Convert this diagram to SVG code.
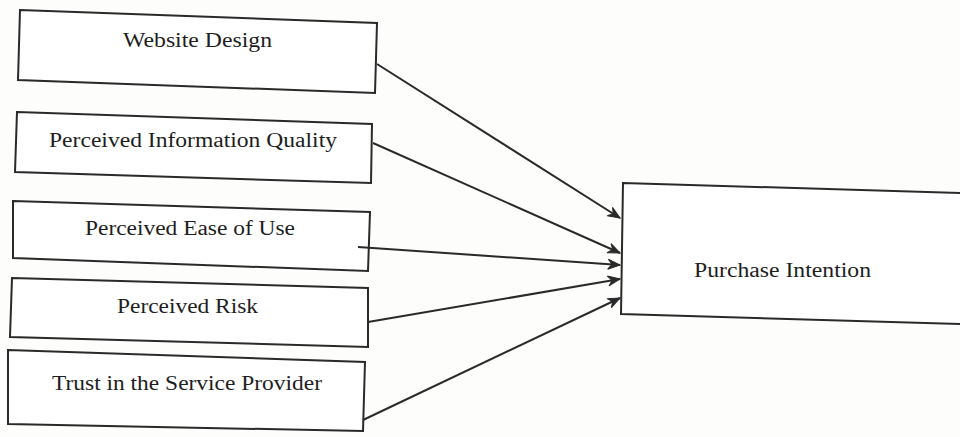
<svg xmlns="http://www.w3.org/2000/svg" width="960" height="437" viewBox="0 0 960 437">
<style>
.box{fill:#fff;stroke:#2a2a2a;stroke-width:2;stroke-linejoin:miter}
.lbl{font-family:"Liberation Serif","Times New Roman",serif;font-size:20px;fill:#1e1e1e;text-anchor:start}
.conn{stroke:#2a2a2a;stroke-width:2;fill:none}
</style>
<defs>
<marker id="ah" markerWidth="14" markerHeight="12" refX="13" refY="6" orient="auto" markerUnits="userSpaceOnUse">
<path d="M1,1 L13,6 L1,11 L5,6 Z" fill="#2a2a2a" stroke="#2a2a2a" stroke-width="1"/>
</marker>
</defs>
<rect width="960" height="437" fill="#fdfdfc"/>
<g id="website-design">
<polygon class="box" points="20,10 377,23 375,93 18,80"/>
<text class="lbl" x="123" y="47" textLength="149" lengthAdjust="spacingAndGlyphs">Website Design</text>
</g>
<g id="perceived-information-quality">
<polygon class="box" points="17,112 372,124 371,183 15,172"/>
<text class="lbl" x="49" y="147" textLength="288" lengthAdjust="spacingAndGlyphs">Perceived Information Quality</text>
</g>
<g id="perceived-ease-of-use">
<polygon class="box" points="13,201 370,212 368,271 13,258"/>
<text class="lbl" x="85" y="235" textLength="210" lengthAdjust="spacingAndGlyphs">Perceived Ease of Use</text>
</g>
<g id="perceived-risk">
<polygon class="box" points="12,278 368,288 368,347 10,337"/>
<text class="lbl" x="117" y="313" textLength="141" lengthAdjust="spacingAndGlyphs">Perceived Risk</text>
</g>
<g id="trust">
<polygon class="box" points="8,350 365,362 363,431 8,424"/>
<text class="lbl" x="52" y="390" textLength="270" lengthAdjust="spacingAndGlyphs">Trust in the Service Provider</text>
</g>
<g id="purchase-intention">
<polygon class="box" points="623,183 962,193 962,324 621,314"/>
<text class="lbl" x="694" y="277" textLength="177" lengthAdjust="spacingAndGlyphs">Purchase Intention</text>
</g>
<g id="connectors">
<line class="conn" x1="377" y1="64" x2="620" y2="218" marker-end="url(#ah)"/>
<line class="conn" x1="373" y1="143" x2="620" y2="253" marker-end="url(#ah)"/>
<line class="conn" x1="358" y1="247" x2="620" y2="265" marker-end="url(#ah)"/>
<line class="conn" x1="368" y1="322" x2="620" y2="279" marker-end="url(#ah)"/>
<line class="conn" x1="363" y1="420" x2="620" y2="298" marker-end="url(#ah)"/>
</g>
</svg>
